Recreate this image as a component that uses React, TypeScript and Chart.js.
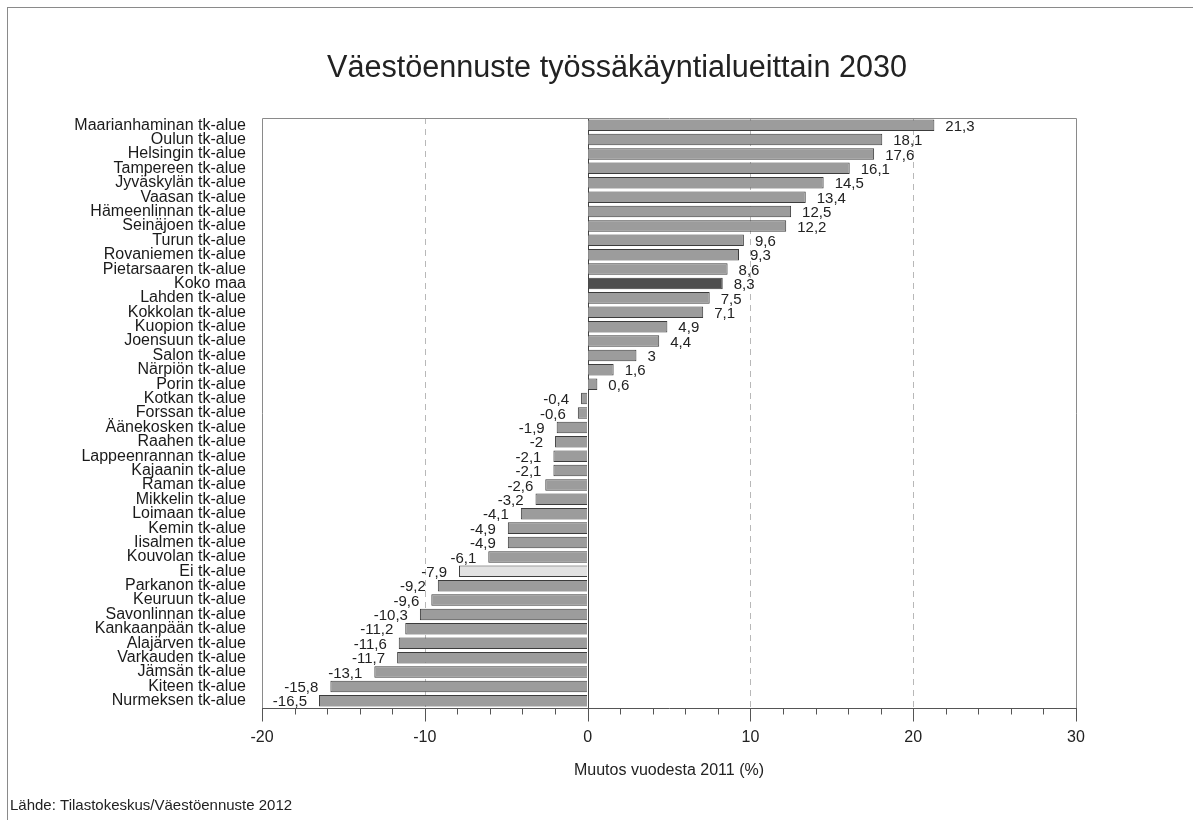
import React, { useEffect, useRef } from "react";
import { Chart, registerables } from "chart.js";

Chart.register(...registerables);

const categories: string[] = [
  "Maarianhaminan tk-alue",
  "Oulun tk-alue",
  "Helsingin tk-alue",
  "Tampereen tk-alue",
  "Jyväskylän tk-alue",
  "Vaasan tk-alue",
  "Hämeenlinnan tk-alue",
  "Seinäjoen tk-alue",
  "Turun tk-alue",
  "Rovaniemen tk-alue",
  "Pietarsaaren tk-alue",
  "Koko maa",
  "Lahden tk-alue",
  "Kokkolan tk-alue",
  "Kuopion tk-alue",
  "Joensuun tk-alue",
  "Salon tk-alue",
  "Närpiön tk-alue",
  "Porin tk-alue",
  "Kotkan tk-alue",
  "Forssan tk-alue",
  "Äänekosken tk-alue",
  "Raahen tk-alue",
  "Lappeenrannan tk-alue",
  "Kajaanin tk-alue",
  "Raman tk-alue",
  "Mikkelin tk-alue",
  "Loimaan tk-alue",
  "Kemin tk-alue",
  "Iisalmen tk-alue",
  "Kouvolan tk-alue",
  "Ei tk-alue",
  "Parkanon tk-alue",
  "Keuruun tk-alue",
  "Savonlinnan tk-alue",
  "Kankaanpään tk-alue",
  "Alajärven tk-alue",
  "Varkauden tk-alue",
  "Jämsän tk-alue",
  "Kiteen tk-alue",
  "Nurmeksen tk-alue",
];

const changes: number[] = [
  21.3, 18.1, 17.6, 16.1, 14.5, 13.4, 12.5, 12.2, 9.6, 9.3, 8.6, 8.3, 7.5, 7.1,
  4.9, 4.4, 3, 1.6, 0.6, -0.4, -0.6, -1.9, -2, -2.1, -2.1, -2.6, -3.2, -4.1,
  -4.9, -4.9, -6.1, -7.9, -9.2, -9.6, -10.3, -11.2, -11.6, -11.7, -13.1, -15.8,
  -16.5,
];

const highlightTotal = "Koko maa";
const highlightNone = "Ei tk-alue";

const titleText = "Väestöennuste työssäkäyntialueittain 2030";
const xAxisTitle = "Muutos vuodesta 2011 (%)";
const sourceText = "Lähde: Tilastokeskus/Väestöennuste 2012";

const xMin = -20;
const xMax = 30;
const xMinorStep = 2;
const xMajorStep = 10;

const FONT = "'Liberation Sans', Arial, sans-serif";

const fmt = (v: number) => String(v).replace(".", ",");

export default function App() {
  const canvasRef = useRef<HTMLCanvasElement | null>(null);

  useEffect(() => {
    const canvas = canvasRef.current;
    if (!canvas) return;

    const colors = categories.map((c) =>
      c === highlightTotal ? "#4d4d4d" : c === highlightNone ? "#e2e2e2" : "#9c9c9c"
    );

    const decorPlugin = {
      id: "decor",
      beforeDatasetsDraw(chart: any) {
        const { ctx, chartArea } = chart;
        const xs = chart.scales.x;
        ctx.save();
        ctx.lineWidth = 1;
        for (let v = xMin + xMajorStep; v < xMax; v += xMajorStep) {
          const px = Math.round(xs.getPixelForValue(v)) + 0.5;
          if (v === 0) {
            ctx.setLineDash([]);
            ctx.strokeStyle = "#444";
          } else {
            ctx.setLineDash([6, 5]);
            ctx.strokeStyle = "#b8b8b8";
          }
          ctx.beginPath();
          ctx.moveTo(px, chartArea.top);
          ctx.lineTo(px, chartArea.bottom);
          ctx.stroke();
        }
        ctx.setLineDash([]);
        ctx.strokeStyle = "#8a8a8a";
        ctx.beginPath();
        ctx.moveTo(Math.round(chartArea.left) + 0.5, chartArea.bottom);
        ctx.lineTo(Math.round(chartArea.left) + 0.5, Math.round(chartArea.top) + 0.5);
        ctx.lineTo(Math.round(chartArea.right) + 0.5, Math.round(chartArea.top) + 0.5);
        ctx.lineTo(Math.round(chartArea.right) + 0.5, chartArea.bottom);
        ctx.stroke();
        ctx.restore();
      },
      afterDatasetsDraw(chart: any) {
        const { ctx, chartArea } = chart;
        const xs = chart.scales.x;
        ctx.save();
        const by = Math.round(chartArea.bottom) + 0.5;
        ctx.strokeStyle = "#555";
        ctx.lineWidth = 1;
        ctx.beginPath();
        ctx.moveTo(chartArea.left, by);
        ctx.lineTo(chartArea.right + 1, by);
        ctx.stroke();
        xs.ticks.forEach((t: any) => {
          const v = t.value;
          const px = Math.round(xs.getPixelForValue(v)) + 0.5;
          const major = Math.abs(v % xMajorStep) < 1e-9;
          ctx.beginPath();
          ctx.moveTo(px, by);
          ctx.lineTo(px, by + (major ? 13 : 6));
          ctx.stroke();
        });
        const meta = chart.getDatasetMeta(0);
        ctx.fillStyle = "#222";
        ctx.font = `15px ${FONT}`;
        ctx.textBaseline = "middle";
        meta.data.forEach((el: any, i: number) => {
          const v = changes[i];
          if (v >= 0) {
            ctx.textAlign = "left";
            ctx.fillText(fmt(v), el.x + 11, el.y + 1.5);
          } else {
            ctx.textAlign = "right";
            ctx.fillText(fmt(v), el.x - 12, el.y + 1.5);
          }
        });
        ctx.textAlign = "center";
        ctx.font = `30.6px ${FONT}`;
        ctx.fillText(titleText, 609, 61);
        ctx.font = `16px ${FONT}`;
        ctx.fillText(xAxisTitle, (chartArea.left + chartArea.right) / 2, 763);
        ctx.textAlign = "left";
        ctx.font = `15px ${FONT}`;
        ctx.fillText(sourceText, 2, 798);
        ctx.restore();
      },
    };

    const chart = new Chart(canvas, {
      type: "bar",
      data: {
        labels: categories,
        datasets: [
          {
            data: changes,
            backgroundColor: colors,
            borderColor: "#3c3c3c",
            borderWidth: 1,
            barPercentage: 0.8,
            categoryPercentage: 1,
          },
        ],
      },
      options: {
        indexAxis: "y",
        responsive: false,
        animation: false,
        devicePixelRatio: 1,
        layout: { padding: { top: 110, right: 117, left: 0, bottom: 0 } },
        plugins: {
          legend: { display: false },
          tooltip: { enabled: false },
          title: { display: false },
        },
        scales: {
          x: {
            type: "linear",
            min: xMin,
            max: xMax,
            afterFit: (s: any) => {
              s.height = 112;
            },
            grid: { display: true, drawOnChartArea: false, drawTicks: false, color: "rgba(0,0,0,0)" },
            border: { display: false },
            ticks: {
              stepSize: xMinorStep,
              autoSkip: false,
              maxRotation: 0,
              padding: 20,
              color: "#222",
              font: { family: FONT, size: 16 },
              callback: (v: any) => (Number(v) % xMajorStep === 0 ? String(v) : ""),
            },
          },
          y: {
            type: "category",
            afterFit: (s: any) => {
              s.width = 254;
            },
            grid: { display: false, drawTicks: false },
            border: { display: false },
            ticks: {
              autoSkip: false,
              padding: 16,
              color: "#1a1a1a",
              font: { family: FONT, size: 16 },
            },
          },
        },
      },
      plugins: [decorPlugin],
    } as any);

    return () => chart.destroy();
  }, []);

  return (
    <div
      style={{
        position: "fixed",
        left: 7,
        top: 7,
        width: 1186,
        height: 813,
        borderLeft: "1px solid #8a8a8a",
        borderTop: "1px solid #8a8a8a",
        background: "#fff",
      }}
    >
      <canvas ref={canvasRef} width={1185} height={812} style={{ display: "block" }} />
    </div>
  );
}
